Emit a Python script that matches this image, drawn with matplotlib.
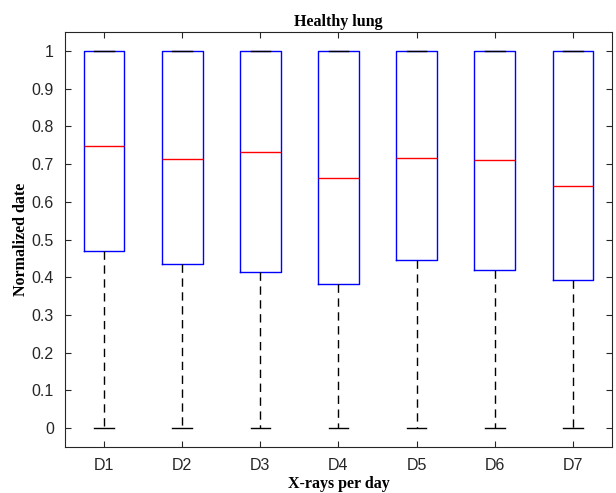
import matplotlib
matplotlib.use("Agg")
from matplotlib import pyplot as plt

# box statistics
days = ['D1', 'D2', 'D3', 'D4', 'D5', 'D6', 'D7']
medians = [0.747, 0.714, 0.733, 0.664, 0.717, 0.710, 0.641]
q1 = [0.470, 0.434, 0.415, 0.383, 0.446, 0.419, 0.392]
q3 = [1.0, 1.0, 1.0, 1.0, 1.0, 1.0, 1.0]
whislo = [0.0, 0.0, 0.0, 0.0, 0.0, 0.0, 0.0]
whishi = [1.0, 1.0, 1.0, 1.0, 1.0, 1.0, 1.0]

stats = []
for i in range(len(days)):
    stats.append({'label': days[i], 'med': medians[i], 'q1': q1[i], 'q3': q3[i],
                  'whislo': whislo[i], 'whishi': whishi[i], 'fliers': []})

fig = plt.figure(figsize=(6.16, 4.93), dpi=100)
ax = fig.add_axes([0.1055, 0.0933, 0.888, 0.8417])

ax.bxp(stats, positions=range(1, 8), widths=0.52, capwidths=0.25, showfliers=False,
       boxprops=dict(color='blue', linewidth=1.0),
       medianprops=dict(color='red', linewidth=1.0),
       whiskerprops=dict(color='black', linewidth=1.0, linestyle=(0, (6, 4))),
       capprops=dict(color='black', linewidth=1.0))

ax.set_xlim(0.5, 7.5)
ax.set_ylim(-0.05, 1.05)
ax.set_yticks([i / 10 for i in range(11)])
ax.set_yticklabels(['0', '0.1', '0.2', '0.3', '0.4', '0.5', '0.6', '0.7', '0.8', '0.9', '1'])
ax.set_xticks(range(1, 8))
ax.set_xticklabels(days)

ax.tick_params(direction='in', top=True, right=True, length=4, width=0.8,
               colors='#262626', labelsize=11.5, pad=8)
for lab in ax.get_xticklabels() + ax.get_yticklabels():
    lab.set_family('Liberation Sans')
for s in ax.spines.values():
    s.set_color('#262626')
    s.set_linewidth(0.8)

ax.set_title('Healthy lung', fontsize=11.5, fontweight='bold', family='Liberation Serif', pad=4)
ax.set_xlabel('X-rays per day', fontsize=11.5, fontweight='bold', family='Liberation Serif', labelpad=2)
ax.set_ylabel('Normalized date', fontsize=11.5, fontweight='bold', family='Liberation Serif', labelpad=2)

fig.savefig('out.png', dpi=100)
